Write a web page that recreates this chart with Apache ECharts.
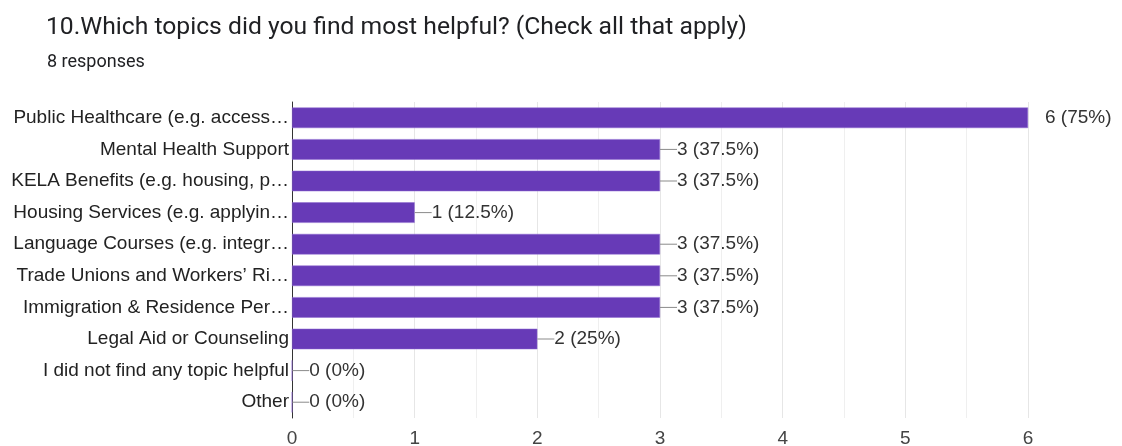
<!DOCTYPE html>
<html>
<head>
<meta charset="utf-8">
<script src="https://cdn.jsdelivr.net/npm/echarts@6/dist/echarts.min.js"></script>
<style>
html,body{margin:0;padding:0;background:#fff;}
#chart{width:1122px;height:446px;}
</style>
</head>
<body>
<div id="chart"></div>
<script>
const titleText = '10.Which topics did you find most helpful? (Check all that apply)';
const subtitleText = '8 responses';
const categories = [
  'Public Healthcare (e.g. access\u2026',
  'Mental Health Support',
  'KELA Benefits (e.g. housing, p\u2026',
  'Housing Services (e.g. applyin\u2026',
  'Language Courses (e.g. integr\u2026',
  'Trade Unions and Workers\u2019 Ri\u2026',
  'Immigration & Residence Per\u2026',
  'Legal Aid or Counseling',
  'I did not find any topic helpful',
  'Other'
];
const counts = [6, 3, 3, 1, 3, 3, 3, 2, 0, 0];
const percents = ['75%', '37.5%', '37.5%', '12.5%', '37.5%', '37.5%', '37.5%', '25%', '0%', '0%'];
const xTicks = [0, 1, 2, 3, 4, 5, 6];

const xMax = xTicks[xTicks.length - 1];
const FONT = '"Liberation Sans", Arial, sans-serif';
const chart = echarts.init(document.getElementById('chart'));
chart.setOption({
  animation: false,
  backgroundColor: '#fff',
  title: [
    { text: titleText, left: 41, top: 10,
      textStyle: { fontFamily: 'Roboto', fontSize: 24.7, fontWeight: 'normal', color: '#202124' } },
    { text: subtitleText, left: 42, top: 48,
      textStyle: { fontFamily: 'Roboto', fontSize: 18, fontWeight: 'normal', color: '#202124' } }
  ],
  grid: { left: 292, right: 94, top: 102, bottom: 28, containLabel: false, outerBoundsMode: 'none' },
  xAxis: {
    type: 'value', min: 0, max: xMax, interval: 1,
    axisLine: { show: false }, axisTick: { show: false },
    axisLabel: { fontFamily: FONT, fontSize: 19, color: '#444', margin: 11 },
    splitLine: { show: true, lineStyle: { color: '#e6e6e6', width: 1 } },
    minorTick: { show: false, splitNumber: 2 },
    minorSplitLine: { show: true, lineStyle: { color: '#efefef', width: 1 } }
  },
  yAxis: {
    type: 'category', data: categories, inverse: true,
    axisLine: { show: true, onZero: false, lineStyle: { color: '#333', width: 1 } },
    axisTick: { show: false },
    axisLabel: { fontFamily: FONT, fontSize: 19, color: '#222', margin: 3 },
    splitLine: { show: false }
  },
  series: [{
    type: 'bar',
    data: counts,
    barCategoryGap: '35%',
    itemStyle: { color: '#673ab7', borderColor: '#8e6bd0', borderWidth: 0.5 },
    label: {
      show: true, position: 'right', distance: 0,
      fontFamily: FONT, fontSize: 19, color: '#333',
      formatter: function (p) {
        const line = p.value >= xMax ? '{n|}' : '{l|}';
        return line + '{t|' + p.value + ' (' + percents[p.dataIndex] + ')}';
      },
      rich: {
        l: { width: 17, height: 1, backgroundColor: '#8a8a8a', verticalAlign: 'middle' },
        n: { width: 17, height: 1, verticalAlign: 'middle' },
        t: { fontFamily: FONT, fontSize: 19, color: '#333' }
      }
    }
  }]
});
</script>
</body>
</html>
